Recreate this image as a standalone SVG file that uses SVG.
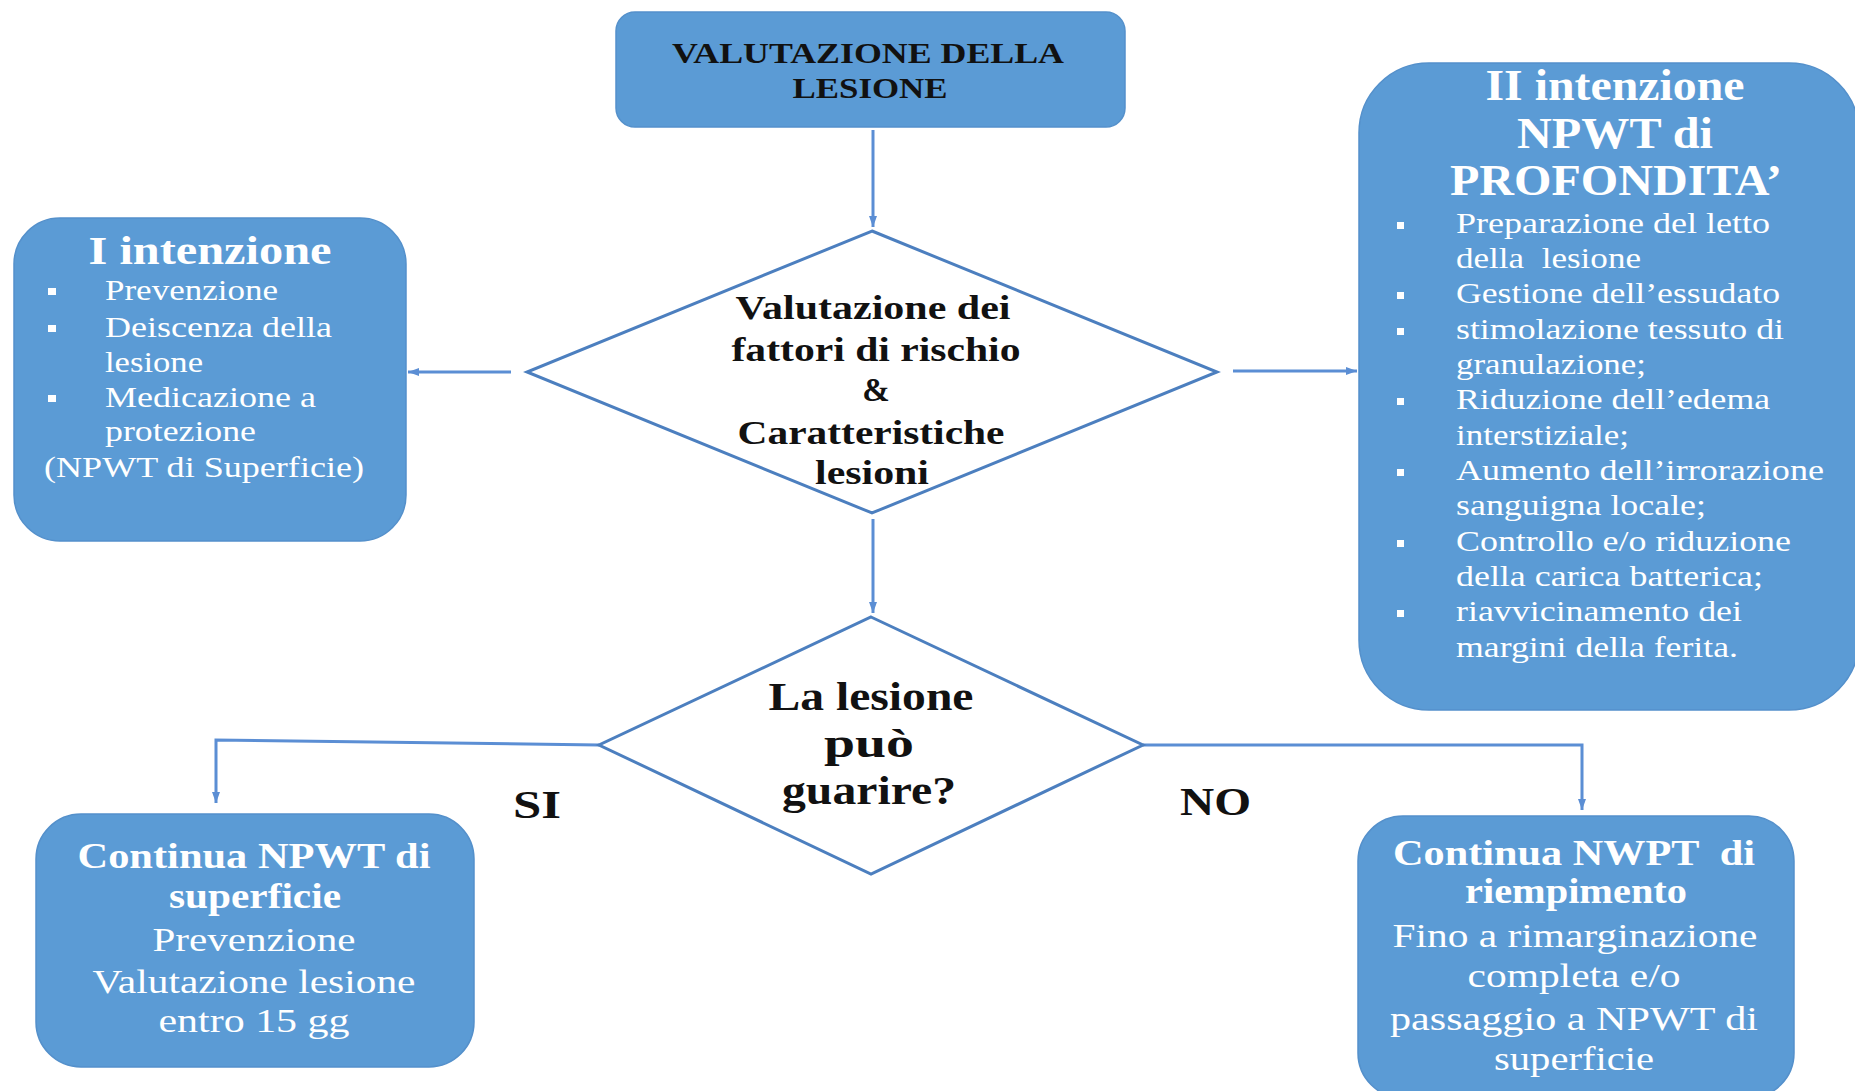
<svg xmlns="http://www.w3.org/2000/svg" width="1855" height="1091" viewBox="0 0 1855 1091">
<style>
.box{fill:#5B9BD5;stroke:#5490CB;stroke-width:1.5}
.dia{fill:#FFFFFF;stroke:#4C7FBF;stroke-width:3}
.con{fill:none;stroke:#5B8ED4;stroke-width:3}
text{font-family:'Liberation Serif','Times New Roman',serif}
.b{font-weight:bold}
.w{fill:#FFFFFF}
.k{fill:#111111}
.c{text-anchor:middle}
.sq{fill:#FFFFFF}
.pre{white-space:pre}
</style>
<defs>
<marker id="ah" markerUnits="userSpaceOnUse" markerWidth="12" markerHeight="10" refX="11" refY="5" orient="auto">
<path d="M0,1 L11,5 L0,9 z" fill="#5B8ED4"/>
</marker>
</defs>
<rect width="1855" height="1091" fill="#FFFFFF"/>

<g id="connectors">
<line class="con" x1="873" y1="130" x2="873" y2="227" marker-end="url(#ah)"/>
<line class="con" x1="511" y1="372" x2="408" y2="372" marker-end="url(#ah)"/>
<line class="con" x1="1233" y1="371" x2="1357" y2="371" marker-end="url(#ah)"/>
<line class="con" x1="873" y1="519" x2="873" y2="613" marker-end="url(#ah)"/>
<polyline class="con" points="599,745 216,740 216,803" marker-end="url(#ah)"/>
<polyline class="con" points="1143,745 1582,745 1582,810" marker-end="url(#ah)"/>
</g>

<g id="node-valutazione-lesione">
<rect class="box" x="616" y="12" width="509" height="115" rx="19" ry="19"/>
<text class="b k c" font-size="30" x="868" y="63" textLength="392" lengthAdjust="spacingAndGlyphs">VALUTAZIONE DELLA</text>
<text class="b k c" font-size="30" x="870" y="98" textLength="155" lengthAdjust="spacingAndGlyphs">LESIONE</text>
</g>

<g id="node-fattori-rischio">
<polygon class="dia" points="872,231 1217,372 872,513 527,372"/>
<text class="b k c" font-size="33" x="873" y="319" textLength="275" lengthAdjust="spacingAndGlyphs">Valutazione dei</text>
<text class="b k c" font-size="33" x="876" y="361" textLength="289" lengthAdjust="spacingAndGlyphs">fattori di rischio</text>
<text class="b k c" font-size="33" x="876" y="401">&amp;</text>
<text class="b k c" font-size="33" x="871" y="444" textLength="267" lengthAdjust="spacingAndGlyphs">Caratteristiche</text>
<text class="b k c" font-size="33" x="872" y="484" textLength="114" lengthAdjust="spacingAndGlyphs">lesioni</text>
</g>

<g id="node-i-intenzione">
<rect class="box" x="14" y="218" width="392" height="323" rx="46" ry="46"/>
<text class="b w c" font-size="40" x="210" y="264" textLength="243" lengthAdjust="spacingAndGlyphs">I intenzione</text>
<rect class="sq" x="48" y="288" width="8" height="7"/>
<rect class="sq" x="48" y="325" width="8" height="7"/>
<rect class="sq" x="48" y="395" width="8" height="7"/>
<text class="w" font-size="29" x="105" y="300" textLength="173" lengthAdjust="spacingAndGlyphs">Prevenzione</text>
<text class="w" font-size="29" x="105" y="337" textLength="227" lengthAdjust="spacingAndGlyphs">Deiscenza della</text>
<text class="w" font-size="29" x="105" y="372" textLength="98" lengthAdjust="spacingAndGlyphs">lesione</text>
<text class="w" font-size="29" x="105" y="407" textLength="211" lengthAdjust="spacingAndGlyphs">Medicazione a</text>
<text class="w" font-size="29" x="105" y="441" textLength="151" lengthAdjust="spacingAndGlyphs">protezione</text>
<text class="w" font-size="29" x="44" y="477" textLength="320" lengthAdjust="spacingAndGlyphs">(NPWT di Superficie)</text>
</g>

<g id="node-ii-intenzione">
<rect class="box" x="1359" y="63" width="500" height="647" rx="70" ry="70"/>
<text class="b w c" font-size="44" x="1615" y="100" textLength="259" lengthAdjust="spacingAndGlyphs">II intenzione</text>
<text class="b w c" font-size="44" x="1615" y="148" textLength="196" lengthAdjust="spacingAndGlyphs">NPWT di</text>
<text class="b w c" font-size="44" x="1616" y="195" textLength="332" lengthAdjust="spacingAndGlyphs">PROFONDITA’</text>
<rect class="sq" x="1397" y="222" width="7" height="7"/>
<rect class="sq" x="1397" y="292" width="7" height="7"/>
<rect class="sq" x="1397" y="328" width="7" height="7"/>
<rect class="sq" x="1397" y="398" width="7" height="7"/>
<rect class="sq" x="1397" y="469" width="7" height="7"/>
<rect class="sq" x="1397" y="540" width="7" height="7"/>
<rect class="sq" x="1397" y="610" width="7" height="7"/>
<text class="w" font-size="29" x="1456" y="233" textLength="314" lengthAdjust="spacingAndGlyphs">Preparazione del letto</text>
<text class="w pre" font-size="29" x="1456" y="268" textLength="185" lengthAdjust="spacingAndGlyphs">della  lesione</text>
<text class="w" font-size="29" x="1456" y="303" textLength="324" lengthAdjust="spacingAndGlyphs">Gestione dell’essudato</text>
<text class="w" font-size="29" x="1456" y="339" textLength="328" lengthAdjust="spacingAndGlyphs">stimolazione tessuto di</text>
<text class="w" font-size="29" x="1456" y="374" textLength="190" lengthAdjust="spacingAndGlyphs">granulazione;</text>
<text class="w" font-size="29" x="1456" y="409" textLength="314" lengthAdjust="spacingAndGlyphs">Riduzione dell’edema</text>
<text class="w" font-size="29" x="1456" y="445" textLength="173" lengthAdjust="spacingAndGlyphs">interstiziale;</text>
<text class="w" font-size="29" x="1456" y="480" textLength="368" lengthAdjust="spacingAndGlyphs">Aumento dell’irrorazione</text>
<text class="w" font-size="29" x="1456" y="515" textLength="250" lengthAdjust="spacingAndGlyphs">sanguigna locale;</text>
<text class="w" font-size="29" x="1456" y="551" textLength="335" lengthAdjust="spacingAndGlyphs">Controllo e/o riduzione</text>
<text class="w" font-size="29" x="1456" y="586" textLength="307" lengthAdjust="spacingAndGlyphs">della carica batterica;</text>
<text class="w" font-size="29" x="1456" y="621" textLength="286" lengthAdjust="spacingAndGlyphs">riavvicinamento dei</text>
<text class="w" font-size="29" x="1456" y="657" textLength="282" lengthAdjust="spacingAndGlyphs">margini della ferita.</text>
</g>

<g id="node-puo-guarire">
<polygon class="dia" points="871,617 1143,745 871,874 599,745"/>
<text class="b k c" font-size="41" x="871" y="710" textLength="205" lengthAdjust="spacingAndGlyphs">La lesione</text>
<text class="b k c" font-size="41" x="869" y="757" textLength="90" lengthAdjust="spacingAndGlyphs">può</text>
<text class="b k c" font-size="41" x="869" y="804" textLength="174" lengthAdjust="spacingAndGlyphs">guarire?</text>
</g>

<g id="label-si">
<text class="b k" font-size="40" x="513" y="818" textLength="48" lengthAdjust="spacingAndGlyphs">SI</text>
</g>
<g id="label-no">
<text class="b k" font-size="40" x="1180" y="815" textLength="71" lengthAdjust="spacingAndGlyphs">NO</text>
</g>

<g id="node-npwt-superficie">
<rect class="box" x="36" y="814" width="438" height="253" rx="45" ry="45"/>
<text class="b w c" font-size="36" x="254" y="868" textLength="353" lengthAdjust="spacingAndGlyphs">Continua NPWT di</text>
<text class="b w c" font-size="36" x="255" y="908" textLength="172" lengthAdjust="spacingAndGlyphs">superficie</text>
<text class="w c" font-size="34" x="254" y="951" textLength="203" lengthAdjust="spacingAndGlyphs">Prevenzione</text>
<text class="w c" font-size="34" x="254" y="993" textLength="323" lengthAdjust="spacingAndGlyphs">Valutazione lesione</text>
<text class="w c" font-size="34" x="254" y="1032" textLength="191" lengthAdjust="spacingAndGlyphs">entro 15 gg</text>
</g>

<g id="node-nwpt-riempimento">
<rect class="box" x="1358" y="816" width="436" height="282" rx="45" ry="45"/>
<text class="b w c pre" font-size="36" x="1574" y="865" textLength="362" lengthAdjust="spacingAndGlyphs">Continua NWPT  di</text>
<text class="b w c" font-size="36" x="1576" y="903" textLength="222" lengthAdjust="spacingAndGlyphs">riempimento</text>
<text class="w c" font-size="34" x="1575" y="947" textLength="365" lengthAdjust="spacingAndGlyphs">Fino a rimarginazione</text>
<text class="w c" font-size="34" x="1574" y="987" textLength="213" lengthAdjust="spacingAndGlyphs">completa e/o</text>
<text class="w c" font-size="34" x="1574" y="1030" textLength="368" lengthAdjust="spacingAndGlyphs">passaggio a NPWT di</text>
<text class="w c" font-size="34" x="1574" y="1070" textLength="160" lengthAdjust="spacingAndGlyphs">superficie</text>
</g>
</svg>
